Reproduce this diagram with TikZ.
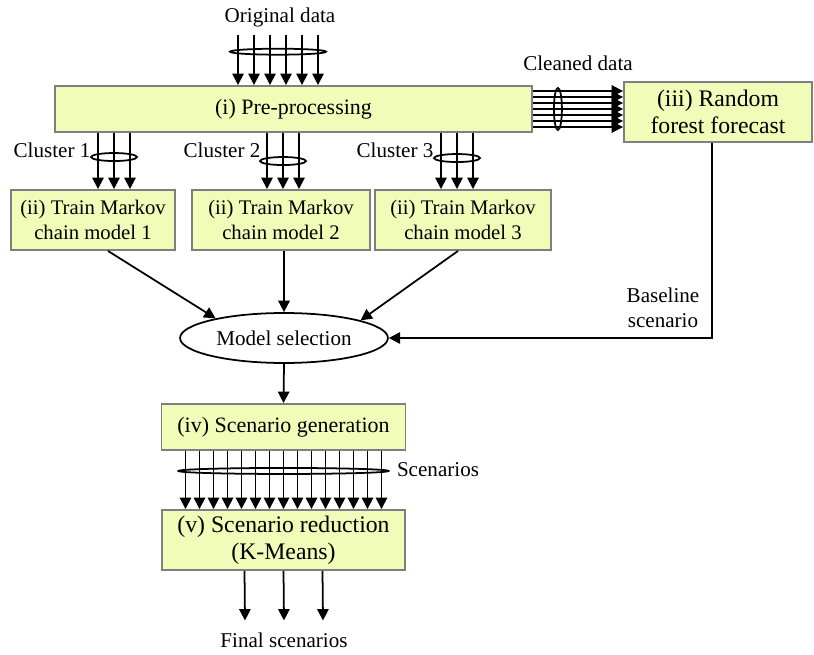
\documentclass[tikz,border=0pt]{standalone}
\usepackage{fontspec}
\setmainfont{Liberation Serif}
\usetikzlibrary{arrows.meta,positioning,calc,shapes.geometric}
\definecolor{boxfill}{HTML}{F0FCB8}
\definecolor{boxline}{HTML}{7F7F7F}

\begin{document}
\begin{tikzpicture}[x=0.02cm, y=-0.02cm, >={Triangle[length=6.5pt,width=6.5pt]},
  stage/.style={draw=boxline, fill=boxfill, line width=1.1pt, rectangle, align=center, inner sep=2pt, font=\rmfamily\fontsize{12.5}{14.5}\selectfont},
  flow/.style={->, line width=1pt},
  lbl/.style={font=\rmfamily\fontsize{12}{14}\selectfont, align=center, inner sep=1pt}]
\useasboundingbox (0,0) rectangle (814,655);

\node[stage, minimum width=9.54cm, minimum height=0.92cm, font=\rmfamily\fontsize{12.5}{15}\selectfont] (pre) at (293.5,109) {(i) Pre-processing};
\node[stage, minimum width=3.76cm, minimum height=1.2cm, font=\rmfamily\fontsize{13.5}{15.5}\selectfont] (rf) at (718,112) {(iii) Random\\forest forecast};
\node[stage, minimum width=3.28cm, minimum height=1.2cm, font=\rmfamily\fontsize{11.8}{14.5}\selectfont] (mc1) at (93,220) {(ii) Train Markov\\chain model 1};
\node[stage, minimum width=3.56cm, minimum height=1.2cm, font=\rmfamily\fontsize{11.8}{14.5}\selectfont] (mc2) at (281,220) {(ii) Train Markov\\chain model 2};
\node[stage, minimum width=3.52cm, minimum height=1.2cm, font=\rmfamily\fontsize{11.8}{14.5}\selectfont] (mc3) at (463,220) {(ii) Train Markov\\chain model 3};
\node[draw, ellipse, line width=1pt, minimum width=3.8cm, minimum height=1cm, font=\rmfamily\fontsize{12}{14}\selectfont] (sel) at (284,338) {Model selection};
\node[stage, minimum width=4.88cm, minimum height=0.92cm] (gen) at (283.5,427) {(iv) Scenario generation};
\node[stage, minimum width=4.86cm, minimum height=1.2cm, font=\rmfamily\fontsize{13.5}{15.5}\selectfont] (red) at (283.5,540) {(v) Scenario reduction\\(K-Means)};

\node[lbl] (orig) at (280,17) {Original data};
\node[lbl] (clean) at (578,63) {Cleaned data};
\node[lbl] (cl1) at (52,150) {Cluster 1};
\node[lbl] (cl2) at (222,150) {Cluster 2};
\node[lbl] (cl3) at (395,150) {Cluster 3};
\node[lbl] (base) at (663,308) {Baseline\\scenario};
\node[lbl] (scen) at (438,470) {Scenarios};
\node[lbl] (final) at (284,640) {Final scenarios};

\foreach \d in {-42,-26,-10,6,22,38}
  \draw[flow] ([xshift=\d*0.02cm, yshift=-6*0.02cm]orig.south) -- ([xshift=\d*0.02cm]orig.south |- pre.north);
\draw[line width=1pt] ($(orig.south)+(-2,23)$) ellipse [x radius=48, y radius=3];

\foreach \d in {-18,-12,...,18}
  \draw[flow] ([yshift=\d*0.02cm]pre.east) -- ([yshift=\d*0.02cm]pre.east -| rf.west);
\draw[line width=1pt] ($(pre.east)+(25,0)$) ellipse [x radius=4, y radius=21];

\foreach \m/\s/\h in {mc1/21/-32, mc2/2/-28, mc3/-6/-31}{
  \foreach \d in {-16,0,16}{
    \pgfmathsetmacro\off{(\s+\d)*0.02}
    \draw[flow] ([xshift=\off cm]pre.south -| \m.north) -- ([xshift=\off cm]\m.north);
  }
  \draw[line width=1pt] ($(\m.north)+(\s,\h)$) ellipse [x radius=23, y radius=4];
}

\draw[flow] ([xshift=15*0.02cm]mc1.south) -- (sel.164);
\draw[flow] (sel.north |- mc2.south) -- (sel.north);
\draw[flow] ([xshift=-5*0.02cm]mc3.south) -- (sel.13);
\draw[flow] ([xshift=-6*0.02cm]rf.south) |- (sel.east);
\draw[flow] (sel.south) -- (gen.north);

\foreach \d in {-7,...,7}
  \draw[flow] ([xshift=\d*14*0.02cm]gen.south) -- ([xshift=\d*14*0.02cm]red.north);
\draw[line width=1pt] ($(gen.south)+(0,20)$) ellipse [x radius=105, y radius=3];

\foreach \d in {-39,0,39}
  \draw[flow] ([xshift=\d*0.02cm]red.south) -- ([xshift=\d*0.02cm, yshift=10*0.02cm]final.north);
\end{tikzpicture}
\end{document}
